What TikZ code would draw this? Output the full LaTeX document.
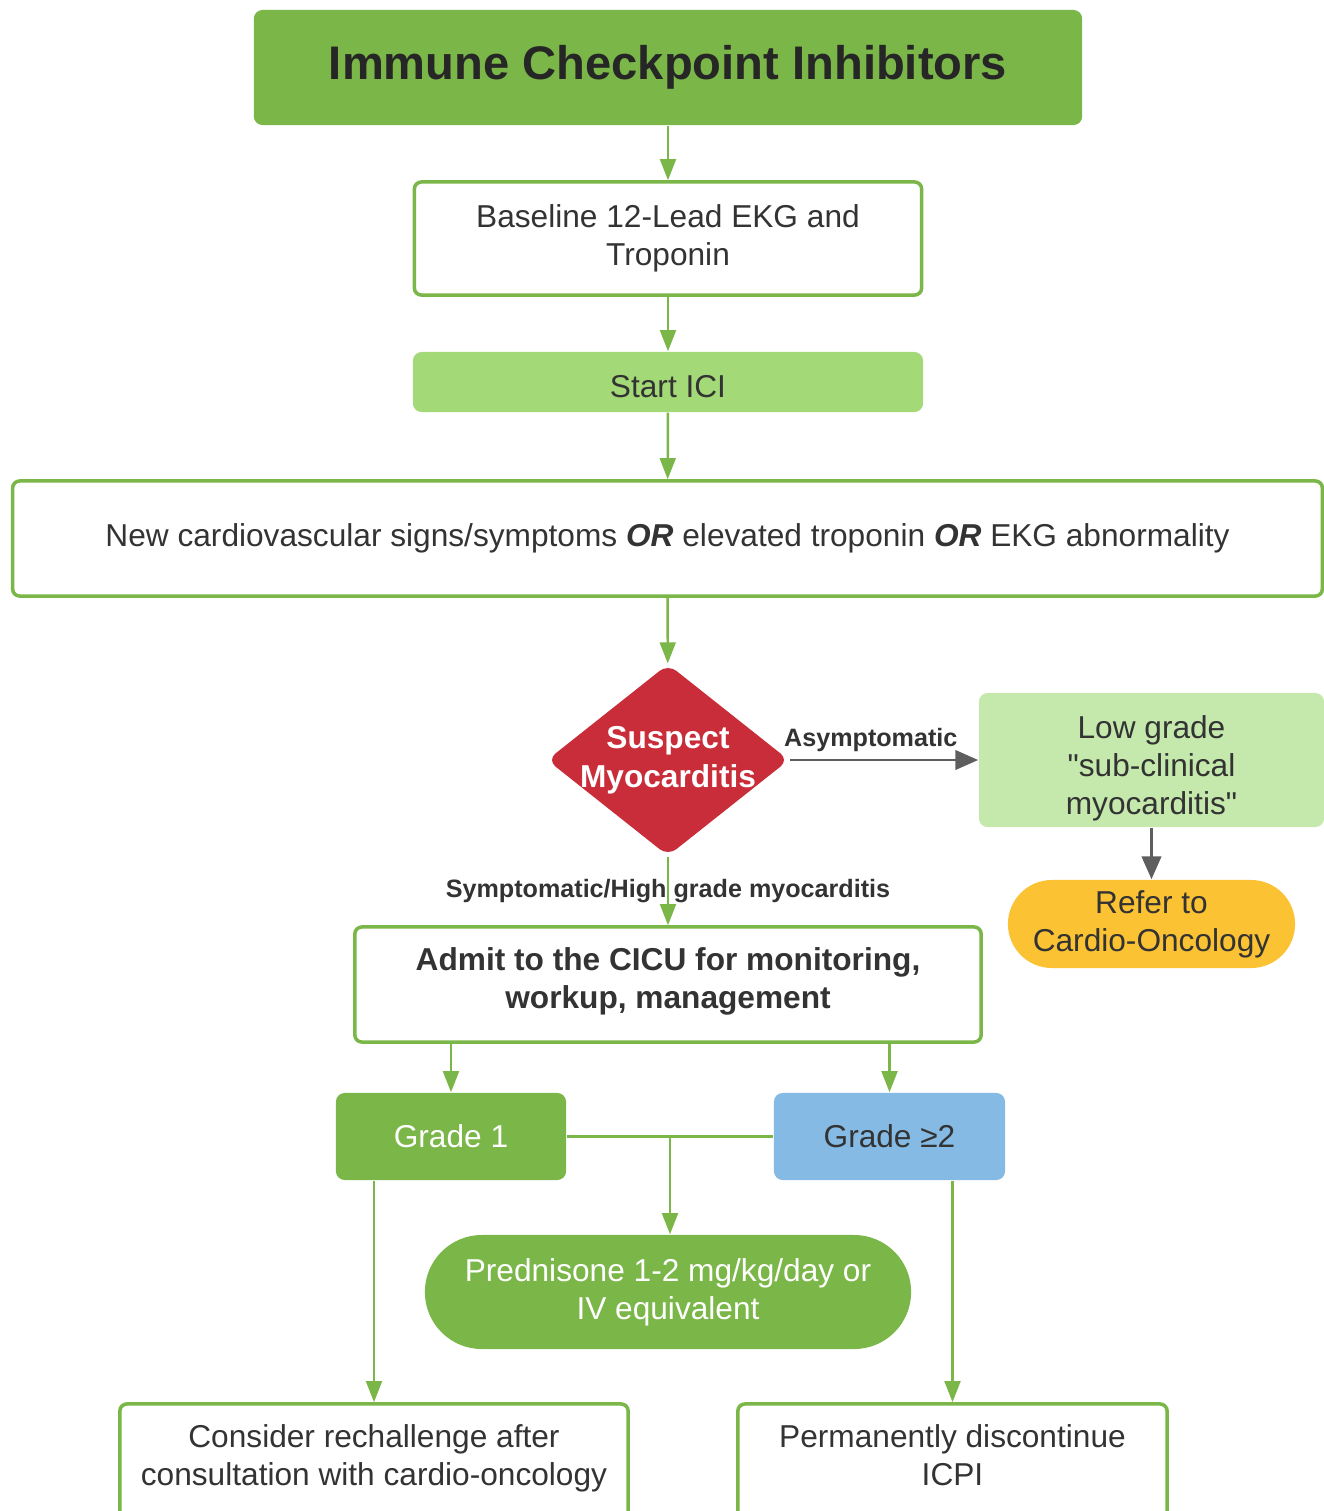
\documentclass[tikz,border=0pt]{standalone}
\usepackage{fontspec}
\setmainfont{Liberation Sans}[Ligatures=TeXOff]
\usepackage{tikz}
\usetikzlibrary{arrows.meta, shapes.geometric, calc}
\usepackage{xcolor}
\definecolor{icigreen}{RGB}{122, 182, 72}
\definecolor{startgreen}{RGB}{163, 217, 119}
\definecolor{palegreen}{RGB}{197, 232, 172}
\definecolor{suspectred}{RGB}{201, 45, 57}
\definecolor{gradeblue}{RGB}{132, 186, 227}
\definecolor{referyellow}{RGB}{251, 194, 51}
\definecolor{textdark}{RGB}{51, 51, 51}
\definecolor{arrowgray}{RGB}{94, 94, 94}
% extra depth under a last line, to lift the text a little
\newcommand{\lowstrut}{\rule[-3.6pt]{0pt}{3.6pt}}

\begin{document}
\begin{tikzpicture}[x=0.01cm, y=-0.01cm,
  txt/.style={font=\fontsize{9}{10.8}\selectfont},
  outlinebox/.style={txt, draw=icigreen, line width=1pt, fill=white, rounded corners=2pt,
    align=center, text=textdark, inner sep=0pt},
  solidbox/.style={txt, rounded corners=2.5pt, align=center, inner sep=0pt},
  garrow/.style={icigreen, line width=0.7pt, -{Triangle[length=6pt, width=4.5pt]}},
  darrow/.style={arrowgray, line width=0.8pt, -{Triangle[length=6.5pt, width=5.5pt]}},
  lbl/.style={font=\bfseries\fontsize{7.15}{8.6}\selectfont, text=textdark}]

  \useasboundingbox (0,0) rectangle (1324,1511);

  % Top of the chain
  \node[solidbox, fill=icigreen, text=black!85, minimum width=8.28cm, minimum height=1.15cm,
    font=\bfseries\fontsize{13.4}{16}\selectfont] (ici) at (668,67.5) {Immune Checkpoint Inhibitors};
  \node[outlinebox, minimum width=5.07cm, minimum height=1.13cm] (baseline) at (668,238.5)
    {Baseline 12-Lead EKG and\\Troponin};
  \node[solidbox, fill=startgreen, text=textdark, minimum width=5.1cm, minimum height=0.6cm]
    (start) at (668,382) {\rule{0pt}{8.7pt}Start ICI};
  \node[outlinebox, minimum width=13.09cm, minimum height=1.15cm] (signs) at (667.5,538.5)
    {New cardiovascular signs/symptoms \textbf{\textit{OR}} elevated troponin \textbf{\textit{OR}} EKG abnormality};

  % Decision
  \node[diamond, fill=suspectred, rounded corners=3pt, minimum width=2.42cm, minimum height=1.92cm,
    inner sep=0pt] (suspect) at (668,760) {};
  \node[align=center, text=white, font=\bfseries\fontsize{9}{11}\selectfont] (suspecttext)
    at (suspect) {Suspect\\Myocarditis};

  % Asymptomatic branch
  \node[solidbox, fill=palegreen, text=textdark, minimum width=3.45cm, minimum height=1.34cm]
    (lowgrade) at (1151.5,760) {\rule{0pt}{11.2pt}Low grade\\"sub-clinical\\myocarditis"};
  \node[solidbox, fill=referyellow, text=textdark, rounded corners=0.44cm, minimum width=2.87cm,
    minimum height=0.88cm] (refer) at (1151.5,924) {Refer to\\Cardio-Oncology};

  % Symptomatic branch
  \node[outlinebox, minimum width=6.26cm, minimum height=1.15cm, font=\bfseries\fontsize{9}{10.8}\selectfont]
    (admit) at (668,984.5) {Admit to the CICU for monitoring,\\workup, management\lowstrut};
  \node[solidbox, fill=icigreen, text=white, minimum width=2.3cm, minimum height=0.87cm]
    (grade1) at (451,1136.5) {Grade 1};
  \node[solidbox, fill=gradeblue, text=textdark, minimum width=2.31cm, minimum height=0.87cm]
    (grade2) at (889.5,1136.5) {Grade ≥2};
  \node[solidbox, fill=icigreen, text=white, rounded corners=0.57cm, minimum width=4.86cm,
    minimum height=1.14cm] (pred) at (668,1292) {Prednisone 1-2 mg/kg/day or\\IV equivalent};
  \node[outlinebox, minimum width=5.08cm, minimum height=1.15cm] (consider) at (374,1461.5)
    {Consider rechallenge after\\consultation with cardio-oncology\lowstrut};
  \node[outlinebox, minimum width=4.29cm, minimum height=1.15cm] (perm) at (952.5,1461.5)
    {Permanently discontinue\\ICPI\lowstrut};

  % Connectors
  \draw[garrow] (ici) -- (baseline);
  \draw[garrow] (baseline) -- (start);
  \draw[garrow] (start) -- (signs);
  \draw[garrow] (signs) -- (suspect);
  \draw[garrow] (suspect) -- node[lbl] {Symptomatic/High grade myocarditis} (admit);
  \draw[darrow] (suspect) -- node[lbl, above, pos=0.43, yshift=-1.3pt] {Asymptomatic} (lowgrade);
  \draw[darrow] (lowgrade) -- (refer);
  \draw[garrow] (admit.south -| grade1.north) -- (grade1.north);
  \draw[garrow] (admit.south -| grade2.north) -- (grade2.north);
  \draw[icigreen, line width=0.7pt] (grade1) -- (grade2);
  \coordinate (split) at ($(grade1.east)!0.5!(grade2.west)$);
  \draw[garrow] (split) -- (split |- pred.north);
  \draw[garrow] (grade1.south -| consider.north) -- (consider.north);
  \draw[garrow] (grade2.south -| perm.north) -- (perm.north);

\end{tikzpicture}
\end{document}
